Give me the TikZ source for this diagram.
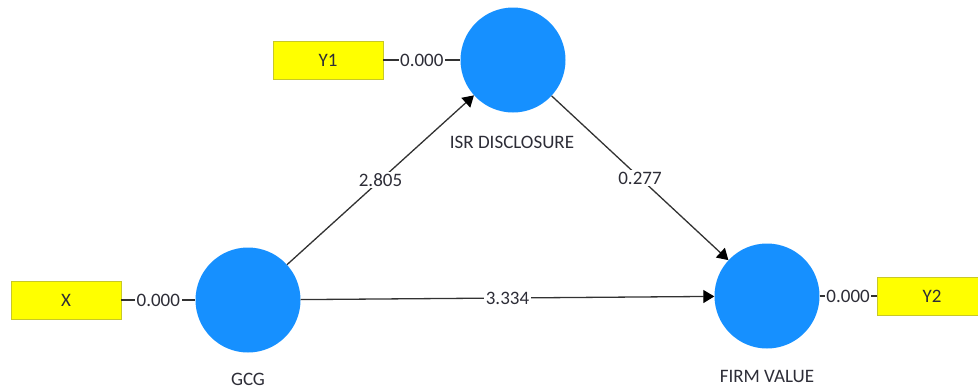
\documentclass[tikz,border=0pt]{standalone}
\usepackage{fontspec}
\setmainfont{Carlito}
\usetikzlibrary{arrows.meta}
\definecolor{lvblue}{RGB}{22,144,255}
\definecolor{indyellow}{RGB}{255,255,0}
\definecolor{indborder}{RGB}{200,200,40}
\definecolor{linegray}{RGB}{50,50,50}
\definecolor{txtgray}{RGB}{45,45,55}
\tikzset{
  latent/.style={circle, fill=lvblue, draw=none, minimum size=105pt, inner sep=0pt},
  indicator/.style={rectangle, fill=indyellow, draw=indborder, line width=0.8pt, minimum width=110pt, minimum height=38pt, inner sep=0pt, text=txtgray, font=\fontsize{19pt}{22pt}\selectfont},
  lvlabel/.style={text=txtgray, font=\fontsize{19pt}{22pt}\selectfont, inner sep=0pt},
  coef/.style={fill=white, text=txtgray, font=\fontsize{19pt}{22pt}\selectfont, inner sep=1.5pt},
  path/.style={draw=linegray, line width=1.3pt, -{Triangle[length=11pt,width=13pt,color=black]}},
  load/.style={draw=linegray, line width=1.3pt}
}
\begin{document}
\begin{tikzpicture}[x=1pt,y=-1pt]
\useasboundingbox (0,0) rectangle (978,389);
\begin{scope}
\clip (0,0) rectangle (978,389);
% latent variables
\node[latent] (gcg) at (248,300) {};
\node[latent] (isr) at (513,60) {};
\node[latent] (fv) at (767,296) {};
% indicators
\node[indicator] (x) at (66,300) {X};
\node[indicator] (y1) at (328,60) {Y1};
\node[indicator] (y2) at (932,296) {Y2};
% labels
\node[lvlabel] (gcgl) at (248,379) {GCG};
\node[lvlabel] (isrl) at (512,142) {ISR DISCLOSURE};
\node[lvlabel] (fvl) at (767,376) {FIRM VALUE};
% loadings
\draw[load] (x.east) -- node[coef] {0.000} (gcg.west);
\draw[load] (y1.east) -- node[coef] {0.000} (isr.west);
\draw[load] (fv.east) -- node[coef] {0.000} (y2.west);
% paths
\draw[path] (gcg) -- node[coef] {2.805} (isr);
\draw[path] (isr) -- node[coef] {0.277} (fv);
\draw[path] (gcg) -- node[coef] {3.334} (fv);
\end{scope}
\end{tikzpicture}
\end{document}
